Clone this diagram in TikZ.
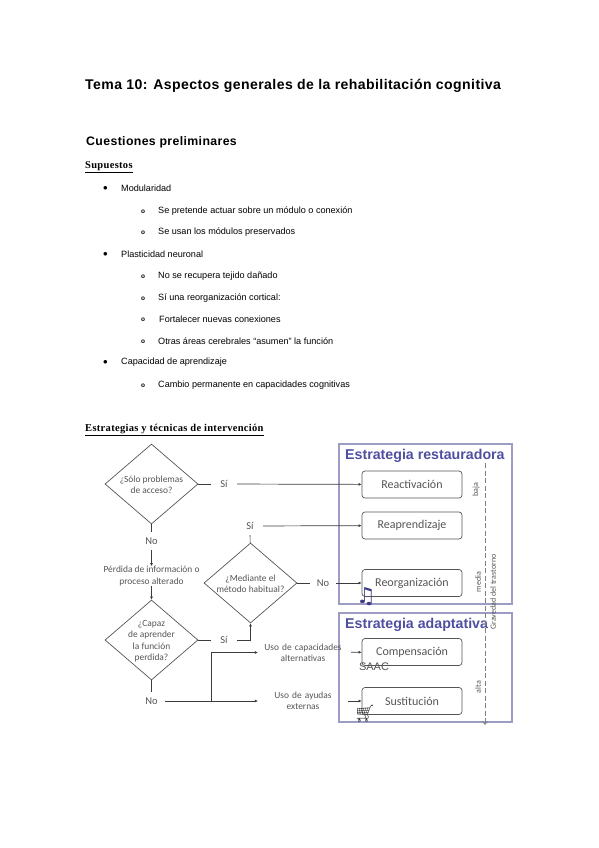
\documentclass[tikz,border=0pt]{standalone}
\usepackage{fontspec}
\usepackage{xcolor}
\usetikzlibrary{arrows.meta,shapes.geometric}
\setmainfont{Liberation Sans}
\newfontfamily\titlefont[LetterSpace=3]{Liberation Sans}
\newfontfamily\headfont[LetterSpace=3]{Liberation Serif}
\newfontfamily\flowfont{Carlito}
\newfontfamily\dejafont{DejaVu Sans}
\newfontfamily\emojifont{Noto Emoji}
\definecolor{flowgray}{HTML}{555555}
\definecolor{framecol}{HTML}{9C9CC4}
\definecolor{stratcol}{HTML}{4F4FA0}
\definecolor{iconcol}{HTML}{3A3A85}
\tikzset{
  toptext/.style={anchor=west,inner sep=0pt,font=\titlefont\bfseries\fontsize{12.3}{15}\selectfont},
  headtext/.style={anchor=west,inner sep=0pt,font=\headfont\bfseries\fontsize{10.5}{12}\selectfont},
  bodytext/.style={anchor=west,inner sep=0pt,font=\fontsize{9.1}{11}\selectfont},
  subbullet/.style={anchor=west,inner sep=0pt,font=\bfseries\fontsize{6.5}{8}\selectfont},
  decision/.style={draw=flowgray,diamond,inner sep=0pt,minimum width=93pt,minimum height=80pt,line width=.7pt},
  flowtext/.style={inner sep=0pt,align=center,text=flowgray,font=\flowfont\fontsize{9.4}{11.4}\selectfont},
  usetext/.style={flowtext,text width=90pt},
  answer/.style={inner sep=0pt,minimum width=26pt,minimum height=18pt,text=flowgray,font=\flowfont\fontsize{10.5}{12}\selectfont},
  stratbox/.style={draw=flowgray,rounded corners=3pt,minimum width=100pt,minimum height=27pt,inner sep=0pt,line width=.7pt,text=flowgray,font=\flowfont\fontsize{12}{14}\selectfont},
  frame/.style={draw=framecol,line width=1.1pt},
  strattitle/.style={anchor=west,inner sep=0pt,text=stratcol,font=\bfseries\fontsize{14.2}{16}\selectfont},
  sidetext/.style={rotate=90,inner sep=0pt,text=flowgray,font=\flowfont\fontsize{8}{9}\selectfont},
  conn/.style={draw=flowgray!70!black,line width=.7pt},
  arrow/.style={conn,-{Latex[length=3pt,width=3pt]}}
}
\begin{document}
\begin{tikzpicture}[x=1pt,y=-1pt]
  \useasboundingbox (0,0) rectangle (599,848);

  % headings
  \node[toptext,font=\titlefont\bfseries\fontsize{14.05}{18}\selectfont] (tema) at (85,86) {Tema 10: Aspectos generales de la rehabilitación cognitiva};
  \node[toptext] (cuestiones) at (86,142) {Cuestiones preliminares};
  \node[headtext] (supuestos) at (85,167) {\underline{Supuestos}};
  \node[headtext] (tecnicas) at (85,430) {\underline{Estrategias y técnicas de intervención}};

  % lists
  \node[bodytext] (bmod) at (103,188) {$\bullet$};
  \node[bodytext] (tmod) at (121,188) {Modularidad};
  \node[subbullet] (bpre) at (141,212) {o};
  \node[bodytext] (tpre) at (158,211) {Se pretende actuar sobre un módulo o conexión};
  \node[subbullet] (buse) at (141,233) {o};
  \node[bodytext] (tuse) at (158,232) {Se usan los módulos preservados};
  \node[bodytext] (bpla) at (103,254) {$\bullet$};
  \node[bodytext] (tpla) at (121,254) {Plasticidad neuronal};
  \node[subbullet] (brec) at (141,277) {o};
  \node[bodytext] (trec) at (158,276) {No se recupera tejido dañado};
  \node[subbullet] (breo) at (141,299) {o};
  \node[bodytext] (treo) at (158,298) {Sí una reorganización cortical:};
  \node[subbullet] (bfor) at (141,320) {o};
  \node[bodytext] (tfor) at (159,319) {Fortalecer nuevas conexiones};
  \node[subbullet] (bare) at (141,342) {o};
  \node[bodytext] (tare) at (158,341) {Otras áreas cerebrales “asumen” la función};
  \node[bodytext] (bcap) at (103,362) {$\bullet$};
  \node[bodytext] (tcap) at (121,362) {Capacidad de aprendizaje};
  \node[subbullet] (bcam) at (141,386) {o};
  \node[bodytext] (tcam) at (158,385) {Cambio permanente en capacidades cognitivas};

  % frames
  \draw[frame] (339,444) rectangle (512,604);
  \draw[frame] (339,613) rectangle (512,722);
  \node[strattitle] (restaura) at (345,456) {Estrategia restauradora};
  \node[strattitle] (adapta) at (345,625) {Estrategia adaptativa};

  % strategies
  \node[stratbox] (reactiva) at (412,484.5) {Reactivación};
  \node[stratbox] (reaprende) at (412,525.5) {Reaprendizaje};
  \node[stratbox] (reorganiza) at (412,583) {Reorganización};
  \node[stratbox] (compensa) at (412,652) {Compensación};
  \node[stratbox] (sustituye) at (412,701) {Sustitución};

  % decisions
  \node[decision] (acceso) at (151.5,484) {};
  \node[flowtext,yshift=-1pt] (taccess) at (acceso) {¿Sólo problemas\\de acceso?};
  \node[decision] (capaz) at (151.5,640) {};
  \node[flowtext,yshift=-1pt] (tcapaz) at (capaz) {¿Capaz\\de aprender\\la función\\perdida?};
  \node[decision] (metodo) at (250.5,583) {};
  \node[flowtext,yshift=-1pt] (tmetodo) at (metodo) {¿Mediante el\\método habitual?};

  % answers and texts
  \node[answer] (si1) at (224,484) {Sí};
  \node[answer] (no1) at (151.5,541) {No};
  \node[flowtext] (perdida) at (151.5,576) {Pérdida de información o\\proceso alterado};
  \node[answer] (si2) at (250,526) {Sí};
  \node[answer] (no2) at (323,583) {No};
  \node[answer] (si3) at (224,640) {Sí};
  \node[answer] (no3) at (151.5,701) {No};
  \node[usetext] (capacid) at (303,652.5) {Uso de capacidades\\alternativas};
  \node[usetext] (ayudas) at (303,701) {Uso de ayudas\\externas};
  \coordinate (branch) at (211,701);

  % connectors
  \draw[conn] (acceso) -- (si1);
  \draw[arrow] (si1) -- (reactiva);
  \draw[conn] (acceso) -- (no1);
  \draw[arrow] (no1) -- (perdida);
  \draw[arrow] (perdida) -- (capaz);
  \draw[conn] (capaz) -- (si3);
  \draw[arrow] (si3) -| (metodo);
  \draw[conn] (metodo) -- (si2);
  \draw[arrow] (si2) -- (reaprende);
  \draw[conn] (metodo) -- (no2);
  \draw[arrow] (no2) -- (reorganiza);
  \draw[conn] (capaz) -- (no3);
  \draw[arrow] (no3) -- (ayudas);
  \draw[arrow] (branch) |- (capacid);
  \draw[arrow,shorten <=3pt] (capacid) -- (compensa);
  \draw[arrow] (ayudas) -- (sustituye);

  % severity axis
  \coordinate (axtop) at (485,463);
  \coordinate (axend) at (485,725);
  \draw[draw=gray,line width=.8pt,dash pattern=on 5pt off 2.5pt,-{Straight Barb[length=3pt,width=5pt]}] (axtop) -- (axend);
  \node[sidetext] (baja) at (476,490) {baja};
  \node[sidetext] (media) at (478,582) {media};
  \node[sidetext] (alta) at (478,687) {alta};
  \node[sidetext] (gravedad) at (493,592) {Gravedad del trastorno};

  % icons
  \node[inner sep=0pt,text=iconcol,font=\dejafont\bfseries\fontsize{22}{22}\selectfont] (musica) at (366,597) {♫};
  \node[inner sep=0pt,text=flowgray,font=\fontsize{11}{12}\selectfont] (saac) at (374,667) {SAAC};
  \node[inner sep=0pt,text=black!75,font=\emojifont\fontsize{17}{17}\selectfont] (carro) at (365,714) {🛒};
\end{tikzpicture}
\end{document}
